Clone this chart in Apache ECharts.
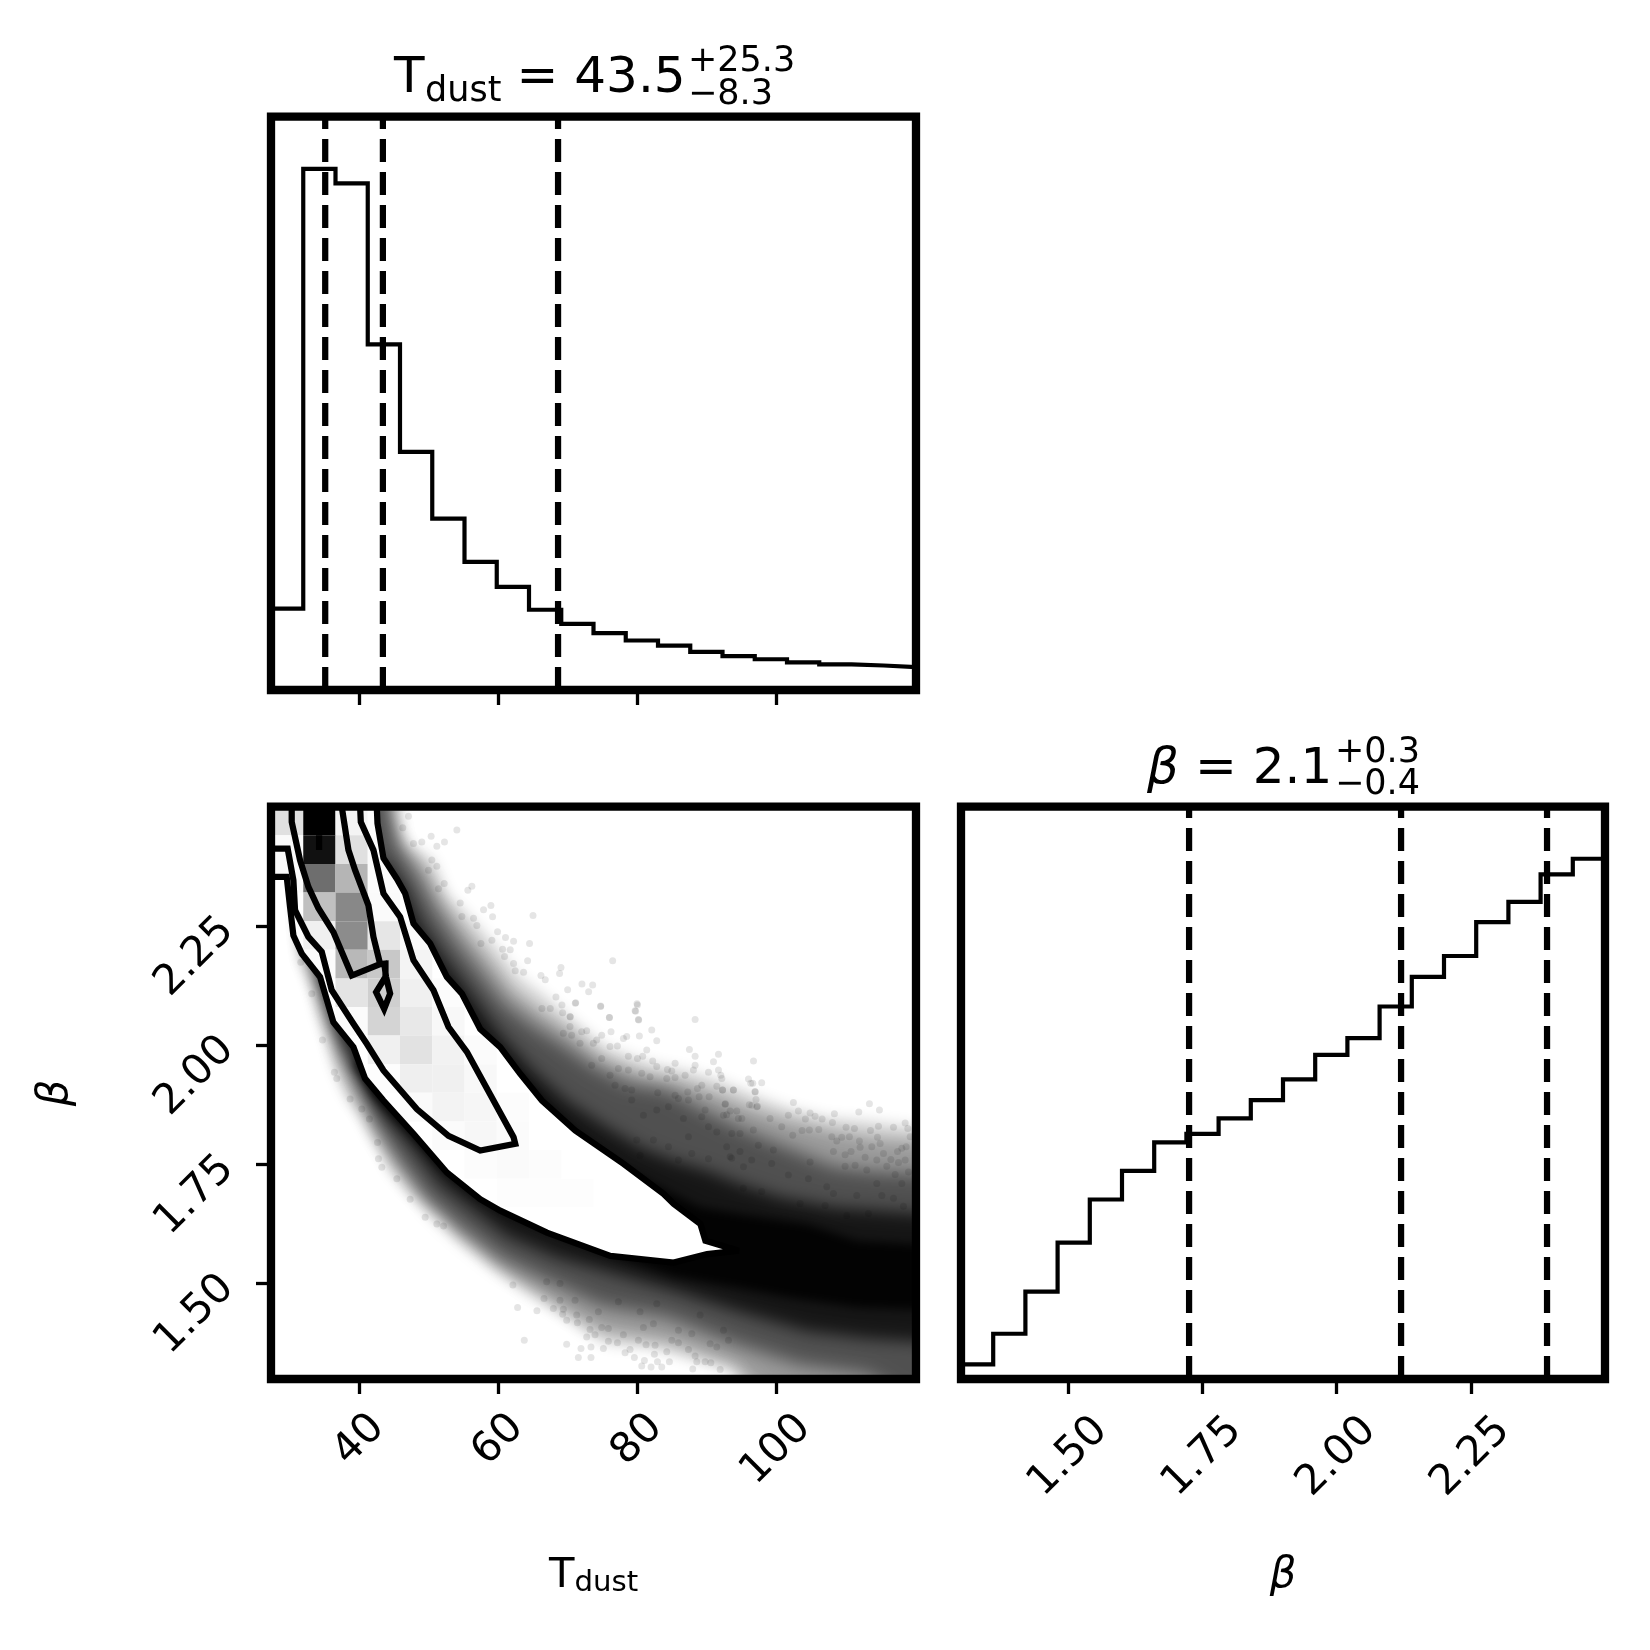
<!DOCTYPE html>
<html><head><meta charset="utf-8">
<style>html,body{margin:0;padding:0;background:#fff}#c{width:1650px;height:1650px}</style>
<script src="https://cdn.jsdelivr.net/npm/echarts@6/dist/echarts.min.js"></script>
</head><body><div id="c"></div>
<script>
// ---------- axes ----------
const tempRange=[27.3,120.1];
const betaRange=[1.30,2.50];
const histRange=[0,1.1];
const tempTicks=[40,60,80,100];
const betaTicks=[1.5,1.75,2,2.25];
// ---------- 1D histograms ----------
const tempEdges=[27.3,31.94,36.58,41.22,45.86,50.5,55.14,59.78,64.42,69.06,73.7,78.34,82.98,87.62,92.26,96.9,101.54,106.18,110.82,115.46,120.1];
const tempHist=[.156,1,.972,.663,.457,.329,.246,.198,.154,.127,.109,.095,.085,.073,.065,.059,.053,.049,.047,.044];
const betaEdges=[1.30,1.36,1.42,1.48,1.54,1.60,1.66,1.72,1.78,1.84,1.90,1.96,2.02,2.08,2.14,2.20,2.26,2.32,2.38,2.44,2.50];
const betaHist=[.028,.087,.168,.262,.345,.400,.455,.471,.501,.536,.576,.623,.655,.716,.773,.813,.878,.917,.970,1];
const tempQuant=[35.1,43.4,68.6];
const betaQuant=[1.725,2.12,2.392];
// ---------- 2D density cells: column, row from the top, grey ----------
const cells=[
[0,0,224],[1,0,0],[2,0,244],[3,0,252],
[0,1,250],[1,1,17],[2,1,224],[3,1,251],
[0,2,250],[1,2,110],[2,2,181],[3,2,251],
[1,3,192],[2,3,136],[3,3,250],
[1,4,240],[2,4,140],[3,4,230],[4,4,250],
[1,5,252],[2,5,184],[3,5,200],[4,5,244],
[2,6,228],[3,6,207],[4,6,240],[5,6,252],
[2,7,251],[3,7,212],[4,7,232],[5,7,248],
[3,8,240],[4,8,226],[5,8,242],[6,8,251],
[3,9,253],[4,9,239],[5,9,240],[6,9,248],
[4,10,250],[5,10,243],[6,10,246],[7,10,252],
[5,11,251],[6,11,247],[7,11,251],
[6,12,252],[7,12,250],[8,12,252],
[7,13,253],[8,13,253],[9,13,253]];
// ---------- contour lines ----------
const contourOuter=[[42.52,2.5],[42.62,2.465],[43.48,2.392],[45.4,2.349],[46.6,2.318],[47.8,2.255],[50.2,2.213],[52.6,2.143],[54.76,2.108],[57.4,2.034],[60.28,1.996],[63.16,1.94],[66.28,1.884],[71.08,1.821],[78.04,1.751],[83.8,1.688],[85.24,1.667],[89.08,1.625],[89.8,1.59],[94.6,1.569],[90.04,1.562],[85.24,1.544],[76.12,1.558],[67,1.607],[60.28,1.653],[57.4,1.677],[52.6,1.733],[47.8,1.814],[43.48,1.884],[40.84,1.93],[39.16,1.996],[36.28,2.048],[34.36,2.143],[31.72,2.192],[30.52,2.23],[30.04,2.29],[29.56,2.353],[27.3,2.353]];
const contourMiddle=[[40.12,2.5],[40.22,2.468],[42.04,2.409],[43.48,2.318],[45.88,2.269],[47.8,2.178],[50.68,2.115],[52.84,2.038],[55.48,1.986],[62.2,1.807],[62.44,1.793],[57.4,1.779],[52.84,1.81],[48.28,1.866],[43.48,1.947],[41.08,2.003],[39.16,2.045],[36.04,2.115],[34.6,2.196],[32.68,2.227],[30.76,2.283],[30.52,2.346],[29.7,2.412],[27.3,2.412]];
const contourInner=[[30.28,2.5],[30.28,2.468],[31.48,2.388],[32.68,2.332],[34.12,2.287],[36.28,2.237],[38.92,2.146],[43,2.17],[43.77,2.171],[43.77,2.143],[42.42,2.111],[43.58,2.076],[44.44,2.108],[43.85,2.143],[43.6,2.171],[43,2.17],[42.04,2.227],[41.32,2.293],[39.4,2.367],[38.44,2.409],[37.48,2.5]];
const contourPeak=[[34.22,2.44],[34.22,2.409]];
// ---------- sample cloud: density envelopes ----------
const cloudFaint=[[43,2.5],[44.44,2.472],[46.84,2.423],[50.68,2.388],[52.6,2.318],[56.44,2.262],[59.8,2.206],[63.16,2.143],[67,2.101],[70.84,2.052],[75.64,1.996],[82.36,1.961],[87.16,1.947],[91.96,1.926],[97.72,1.891],[101.56,1.87],[107.32,1.849],[113.08,1.842],[120.1,1.814],[120.1,1.3],[97.72,1.3],[93.88,1.317],[87.16,1.345],[81.88,1.366],[75.64,1.373],[72.28,1.401],[68.92,1.443],[63.16,1.492],[60.28,1.527],[54.04,1.604],[51.64,1.646],[47.32,1.688],[44.44,1.737],[42.52,1.793],[40.6,1.849],[38.2,1.891],[36.52,1.947],[35.56,2.003],[34.12,2.066],[33.16,2.122],[31.72,2.178],[31,2.3],[35,2.5]];
const cloudLight=[[43.3,2.5],[46,2.42],[49.5,2.37],[52,2.3],[55.2,2.24],[58.6,2.18],[62,2.115],[66,2.07],[70,2.03],[74.7,1.975],[80.4,1.94],[85.7,1.925],[91,1.9],[96,1.87],[101,1.845],[108,1.82],[114,1.805],[120.1,1.79],[120.1,1.3],[105,1.3],[94,1.33],[85,1.375],[75,1.4],[69,1.445],[64,1.495],[60,1.53],[54,1.6],[50,1.655],[46,1.735],[42.3,1.81],[39.8,1.88],[37,1.97],[35.2,2.06],[33.8,2.13],[32,2.19],[31.5,2.3],[35.5,2.5]];
const cloudMedium=[[43.24,2.5],[45.4,2.423],[48.28,2.353],[51.16,2.276],[54.04,2.213],[57.4,2.15],[60.76,2.087],[65.08,2.038],[68.92,2.003],[73.72,1.954],[78.52,1.919],[84.28,1.905],[90.04,1.86],[94.84,1.825],[100.6,1.79],[108.28,1.745],[114.04,1.735],[120.1,1.725],[120.1,1.3],[113.08,1.31],[103.48,1.33],[93.88,1.375],[84.28,1.43],[74.68,1.455],[65.08,1.52],[60.28,1.555],[54.04,1.625],[49.72,1.68],[45.4,1.765],[42.04,1.85],[39.16,1.935],[36.76,2.02],[34.36,2.136],[32.44,2.206],[32,2.3],[36,2.5]];
const cloudDense=[[43.48,2.388],[46.36,2.332],[48.76,2.255],[52.12,2.185],[56.44,2.101],[60.28,2.024],[65.08,1.947],[69.88,1.884],[75.64,1.828],[80.44,1.786],[85.24,1.758],[90.04,1.737],[94.84,1.709],[100.6,1.681],[108.28,1.66],[120.1,1.639],[120.1,1.37],[113.08,1.385],[104.44,1.4],[94.84,1.44],[85.24,1.485],[75.64,1.525],[68.44,1.555],[61.24,1.6],[56.44,1.655],[51.64,1.71],[47.8,1.785],[43.48,1.855],[40.6,1.93],[38.2,1.993],[36.28,2.056],[34.36,2.143],[35,2.3]];
const cloudCore=[[52.6,2.129],[57.4,2.024],[66.04,1.891],[71.32,1.814],[78.04,1.744],[85.24,1.688],[89.08,1.66],[94.84,1.646],[104.44,1.625],[111.64,1.59],[120.1,1.576],[120.1,1.44],[111.64,1.45],[102.04,1.47],[94.84,1.49],[85.24,1.515],[75.64,1.562],[68.44,1.604],[61.24,1.646],[56.44,1.688],[51.64,1.744],[46.84,1.821],[42.04,1.891],[39.16,1.961]];
// ---------- individual samples ----------
const samplesUpperLeft=[[47.08,2.48],[46.26,2.456],[54.04,2.451],[50.34,2.438],[52.26,2.426],[51.16,2.417],[49,2.426],[47.8,2.423],[50.44,2.388],[51.16,2.375],[49.96,2.367],[56.2,2.333],[55.62,2.325],[52.22,2.339],[51.4,2.328],[54.52,2.298],[58.94,2.293],[57.88,2.284],[59.18,2.269],[65,2.272],[54.76,2.27],[56.44,2.266],[56.92,2.251],[59.9,2.238],[59.08,2.22],[61.04,2.226],[62.2,2.218],[64.5,2.213],[57.5,2.213],[60.62,2.201],[61.72,2.2],[60.9,2.186],[76.46,2.177],[64.22,2.177],[62.2,2.171],[69.02,2.163],[68.82,2.15],[63.64,2.153],[62.44,2.156],[66.14,2.146],[66.76,2.137],[72.04,2.128],[73.58,2.126],[73,2.112],[69.98,2.116],[68.3,2.101],[71.08,2.088],[69.16,2.084],[79.96,2.087],[79.76,2.071],[80.2,2.053],[74.72,2.081],[76,2.058],[70.36,2.059],[66.28,2.077],[67.48,2.077]];
const samplesLowerLeft=[[31.58,2.174],[33.16,2.108],[34.7,2.011],[36.76,1.93],[36.42,1.943],[38.68,1.887],[40.36,1.866],[41.46,1.845],[42.62,1.796],[42.76,1.762],[43.24,1.744],[45.4,1.72],[47.32,1.677],[49.48,1.639],[51.16,1.625],[52.12,1.621],[63.74,1.381],[62.78,1.45],[65.56,1.443],[62.1,1.497]];
const samplesUpperMid=[[71.14,2.089],[74.74,2.082],[80.02,2.084],[79.68,2.072],[70.32,2.06],[69.26,2.068],[75.98,2.058],[80.16,2.054],[88.32,2.054],[72.72,2.03],[72,2.028],[76.22,2.028],[82.08,2.032],[80.3,2.019],[78.48,2.018],[78,2.014],[74.88,2.021],[74.16,2.011],[82.8,2.009],[87.5,1.991],[81.36,1.99],[76.08,1.997],[77.14,1.998],[88.32,1.977],[78.72,1.977],[80.78,1.977],[80.02,1.972],[91.68,1.981],[82.22,1.967],[90.96,1.965],[96.72,1.967],[85.44,1.962],[88.32,1.958],[82.8,1.955],[88.08,1.948],[84.34,1.949],[90.24,1.943],[84.96,1.946],[91.68,1.948],[92.02,1.937],[86.88,1.937],[92.16,1.93],[96,1.929],[84.24,1.93],[85.44,1.932],[96.62,1.92],[91.44,1.914],[89.28,1.916],[88.66,1.909],[92.26,1.906],[93.84,1.906],[87.26,1.902],[96.96,1.902],[88.9,1.892],[90.34,1.892],[85.44,1.895],[82.94,1.9],[92.64,1.876],[96.48,1.874],[97.2,1.871],[89.76,1.864],[94.32,1.862],[93.36,1.862],[92.4,1.853],[89.28,1.85],[87.36,1.885],[85.92,1.888],[81.84,1.934],[80.64,1.941],[78.72,1.948],[77.28,1.951],[76.08,1.937],[74.88,1.972],[73.44,1.958],[73.68,2.004],[71.76,2.004],[70.56,2.021],[69.36,2.025],[70.32,2.039],[78.24,1.909],[79.2,1.906],[76.8,1.916],[82.8,1.864],[80.88,1.853],[79.2,1.885],[84.48,1.871],[86.64,1.846],[87.36,1.808],[90.24,1.829],[91.44,1.818],[95.04,1.846],[93.6,1.815],[79.92,1.801],[84.48,1.787],[85.92,1.759],[82.32,1.801],[90.24,1.762],[87.84,1.773],[93.36,1.766],[95.28,1.745],[80.4,1.769]];
const samplesUpperRight=[[97.9,1.921],[96.32,1.92],[92.28,1.906],[93.82,1.906],[96.94,1.903],[97.08,1.886],[92.67,1.877],[96.12,1.875],[97.28,1.872],[102.46,1.88],[113.4,1.877],[114.84,1.864],[103.18,1.862],[111.87,1.86],[108.36,1.856],[101.74,1.853],[104.86,1.858],[105.58,1.851],[104.19,1.845],[106.59,1.845],[108.08,1.838],[118.54,1.837],[110.04,1.828],[111.24,1.825],[116.86,1.828],[114.7,1.83],[118.92,1.825],[113.55,1.821],[106.11,1.823],[103.71,1.821],[104.76,1.822],[119.26,1.808],[102.36,1.811],[110.52,1.808],[114.56,1.807],[111.96,1.799],[109.42,1.807],[107.98,1.808],[108.7,1.799],[114.94,1.794],[112.06,1.786],[113.74,1.787],[117.44,1.777],[118.06,1.784],[118.68,1.787],[108.22,1.777],[110.76,1.777],[115.42,1.773],[112.78,1.765],[114.46,1.759],[109.9,1.77],[116.48,1.76],[118.54,1.759],[104.86,1.755],[117.58,1.754],[115.9,1.746],[111.34,1.748],[109.9,1.746],[113.02,1.738],[117.1,1.729],[119.02,1.734],[114.46,1.71],[118.06,1.71],[107.26,1.703],[104.62,1.72],[101.74,1.728],[99.34,1.752],[96.46,1.759],[94.78,1.777],[93.58,1.763],[97.42,1.79],[99.58,1.78],[100.78,1.829],[99.1,1.846],[94.54,1.846],[92.86,1.854],[96.7,1.822],[94.78,1.815],[92.86,1.787],[116.86,1.679],[118.3,1.662],[115.18,1.685],[111.58,1.685],[108.22,1.689],[110.14,1.643],[113.26,1.647],[103.42,1.668],[107.02,1.664],[95.26,1.7],[97.9,1.693]];
const samplesLowerMid=[[69.84,1.373],[71.52,1.345],[73.34,1.345],[71.9,1.364],[73.34,1.367],[75.12,1.364],[75.84,1.379],[77.14,1.376],[72.72,1.388],[73.2,1.404],[73.92,1.393],[67.92,1.448],[69.26,1.436],[69.84,1.423],[71.38,1.418],[73.1,1.425],[66.58,1.469],[68.88,1.465],[78.24,1.355],[78.96,1.362],[79.58,1.345],[81.02,1.339],[80.64,1.327],[81.98,1.325],[83.52,1.325],[82.9,1.336],[84.62,1.336],[82.46,1.352],[84.24,1.357],[81.26,1.372],[82.56,1.371],[85.92,1.376],[87.36,1.362],[88.32,1.348],[88.56,1.336],[89.76,1.336],[87.98,1.321],[90.58,1.334],[91.92,1.32],[80.16,1.381],[78,1.393],[75.84,1.406],[74.88,1.408],[71.28,1.434],[69.36,1.446],[80.88,1.408],[82.32,1.416],[84.96,1.381],[87.84,1.395],[90.48,1.374],[93.12,1.381],[91.44,1.367],[74.4,1.441],[77.28,1.462],[71.04,1.465],[68.88,1.5],[66.96,1.504],[80.4,1.441],[82.8,1.458],[85.92,1.402],[89.04,1.434],[92.4,1.402]];

const FONT='"DejaVu Sans"';
const chart=echarts.init(document.getElementById('c'),null,{renderer:'canvas'});

function stepData(edges,vals){
  const d=vals.map((v,i)=>[edges[i],v]);
  d.push([edges[edges.length-1],vals[vals.length-1]]);
  return d;
}
function solid(data,fill,z){
  return {type:'custom',xAxisIndex:1,yAxisIndex:1,z:z,silent:true,clip:true,data:data,encode:{x:0,y:1},
    renderItem:(p,api)=>p.dataIndex!==0?null:({type:'polygon',shape:{points:data.map(c=>api.coord(c))},style:{fill:fill}})};
}
// A density envelope painted as a soft-edged shape: the polygon itself sits off to the side and only its blurred shadow lands on the plot.
const OFF=3000;
function soft(data,alpha,blur){
  return {type:'custom',xAxisIndex:1,yAxisIndex:1,z:1,silent:true,clip:true,data:data,encode:{x:0,y:1},
    renderItem:(p,api)=>{
      if(p.dataIndex!==0) return null;
      const pts=data.map(c=>{
        const q=api.coord(c);
        if(c[0]>=tempRange[1]) q[0]+=60;
        if(c[1]<=betaRange[0]) q[1]+=60;
        if(c[1]>=betaRange[1]) q[1]-=60;
        return [q[0]-OFF,q[1]];
      });
      return {type:'polygon',shape:{points:pts},
        style:{fill:'#000',shadowBlur:blur,shadowOffsetX:OFF,shadowColor:`rgba(0,0,0,${alpha})`}};
    }};
}
function line(data,xi,yi,w,z,dash){
  return {type:'line',xAxisIndex:xi,yAxisIndex:yi,data:data,showSymbol:false,symbol:'none',silent:true,z:z,clip:true,animation:false,
    lineStyle:{color:'#000',width:w,type:dash||'solid',cap:'butt',join:'miter',miterLimit:4}};
}
function stepLine(data,xi,yi){
  const s=line(data,xi,yi,4.2,3);s.step='end';return s;
}
const cellBoxes=cells.map(c=>[tempEdges[c[0]],tempEdges[c[0]+1],betaEdges[19-c[1]],betaEdges[20-c[1]],c[2]]);
const samples=[...samplesUpperLeft,...samplesLowerLeft,...samplesUpperMid,...samplesUpperRight,...samplesLowerMid];

const series=[
  stepLine(stepData(tempEdges,tempHist),0,0),
  ...tempQuant.map(q=>line([[q,histRange[0]],[q,histRange[1]]],0,0,6.25,4,[23,10])),
  stepLine(stepData(betaEdges,betaHist),3,2),
  ...betaQuant.map(q=>line([[q,histRange[0]],[q,histRange[1]]],3,2,6.25,4,[23,10])),
  soft(cloudFaint,0.16,14),
  soft(cloudLight,0.28,16),
  soft(cloudMedium,0.48,18),
  soft(cloudDense,0.72,16),
  soft(cloudCore,0.85,10),
  {type:'scatter',xAxisIndex:1,yAxisIndex:1,data:samples,symbolSize:7,z:2,silent:true,clip:true,
   itemStyle:{color:'rgba(0,0,0,0.13)',borderWidth:0}},
  solid(contourOuter.concat([[27.3,2.5]]),'#fff',3),
  {type:'custom',xAxisIndex:1,yAxisIndex:1,z:4,silent:true,data:cellBoxes,encode:{x:[0,1],y:[2,3]},
   renderItem:(p,api)=>{
     const a=api.coord([api.value(0),api.value(3)]),b=api.coord([api.value(1),api.value(2)]);
     const g=api.value(4);
     return {type:'rect',shape:{x:a[0],y:a[1],width:b[0]-a[0],height:b[1]-a[1]},
       style:{fill:`rgb(${g},${g},${g})`},
       clipPath:{type:'polygon',shape:{points:contourOuter.concat([[27.3,2.5]]).map(c=>api.coord(c))}}};
   }},
  line(contourOuter,1,1,6.25,5),
  line(contourMiddle,1,1,6.25,5),
  line(contourInner,1,1,6.25,5),
  line(contourPeak,1,1,6.25,5)
];

function xAxis(grid,range,ticks,labels,margin,extra){
  return Object.assign({type:'value',gridIndex:grid,min:range[0],max:range[1],position:'bottom',splitLine:{show:false},
    axisLine:{show:false},
    axisTick:{show:true,length:15,customValues:ticks,lineStyle:{color:'#000',width:3.3}},
    axisLabel:{show:labels,customValues:ticks,rotate:45,align:'center',verticalAlign:'middle',margin:margin,
      fontFamily:FONT,fontSize:41.7,color:'#000',
      formatter:v=>range===betaRange?v.toFixed(2):String(v)}},extra||{});
}
const option={
  animation:false,backgroundColor:'#fff',
  grid:[
    {left:271,top:116.7,width:645,height:573.3,show:true,borderWidth:8.3,borderColor:'#000',backgroundColor:'transparent',z:10},
    {left:271,top:806.7,width:645,height:572.3,show:true,borderWidth:8.3,borderColor:'#000',backgroundColor:'transparent',z:10},
    {left:961,top:806.7,width:644,height:572.3,show:true,borderWidth:8.3,borderColor:'#000',backgroundColor:'transparent',z:10}
  ],
  xAxis:[
    xAxis(0,tempRange,tempTicks,false,0),
    xAxis(1,tempRange,tempTicks.slice(0,3),true,61,{name:'{t|T}{s|dust}',nameLocation:'middle',nameGap:176,
      nameTextStyle:{rich:{t:{fontFamily:FONT,fontSize:41.7,color:'#000'},s:{fontFamily:FONT,fontSize:29.2,color:'#000',padding:[14,0,0,0]}}}}),
    xAxis(1,tempRange,tempTicks.slice(3),true,71),
    xAxis(2,betaRange,betaTicks,true,78,{name:'β',nameLocation:'middle',nameGap:176,
      nameTextStyle:{fontFamily:FONT,fontStyle:'italic',fontSize:41.7,color:'#000'}})
  ],
  yAxis:[
    {type:'value',gridIndex:0,min:histRange[0],max:histRange[1],show:false},
    {type:'value',gridIndex:1,min:betaRange[0],max:betaRange[1],splitLine:{show:false},axisLine:{show:false},
     axisTick:{show:true,length:15,customValues:betaTicks,lineStyle:{color:'#000',width:3.3}},
     axisLabel:{show:true,customValues:betaTicks,rotate:45,align:'center',verticalAlign:'middle',margin:45,padding:[88,88,0,0],
       fontFamily:FONT,fontSize:41.7,color:'#000',formatter:v=>v.toFixed(2)},
     name:'β',nameLocation:'middle',nameGap:194,nameTextStyle:{fontFamily:FONT,fontStyle:'italic',fontSize:41.7,color:'#000'}},
    {type:'value',gridIndex:2,min:histRange[0],max:histRange[1],show:false}
  ],
  series:series,
  graphic:{elements:[
    ...[
      ['T',394,79,50,''],['dust',425,91.5,35,''],['= 43.5',516.5,79,50,''],['+25.3',688,62,35,''],['\u22128.3',688,95,35,''],
      ['β',1147,770,50,'italic '],['= 2.1',1195,770,50,''],['+0.3',1335,752.5,35,''],['\u22120.4',1335,785,35,'']
    ].map(t=>({type:'text',z:20,silent:true,style:{text:t[0],x:t[1],y:t[2],fill:'#000',
      font:`${t[4]}${t[3]}px ${FONT}`,textAlign:'left',textVerticalAlign:'middle'}}))
  ]}
};
chart.setOption(option);
</script></body></html>
